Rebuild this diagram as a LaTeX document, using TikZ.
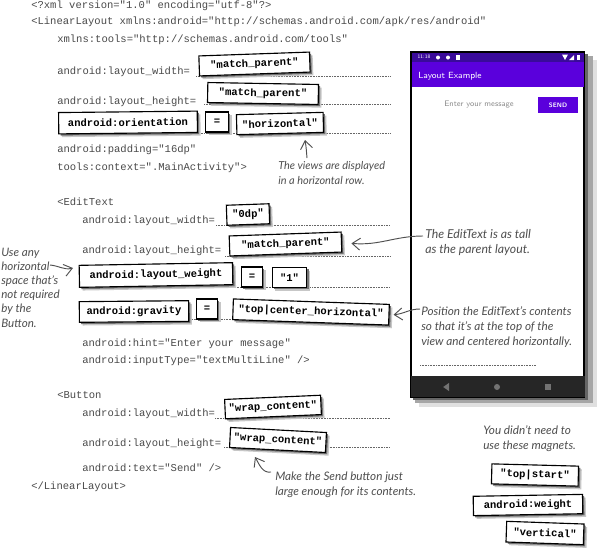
\documentclass[tikz,border=0pt]{standalone}
\usepackage{fontspec}
\setmainfont{Lato}
\setmonofont{Liberation Mono}
\usetikzlibrary{shadows,arrows.meta,shapes.geometric}
\definecolor{codec}{HTML}{4A4A4A}
\definecolor{notec}{HTML}{4F4F4F}
\definecolor{appbar}{HTML}{5A00DC}
\definecolor{statusbar}{HTML}{3A0A9A}
\tikzset{
  code/.style={anchor=base west,inner sep=0pt,text=codec,font=\ttfamily\fontsize{7.9pt}{9pt}\selectfont},
  magnet/.style={draw=black,line width=0.85pt,fill=white,inner sep=0pt,align=center,
    font=\ttfamily\bfseries\fontsize{7.9pt}{9pt}\selectfont,
    general shadow={fill=black!22,shadow xshift=2.4pt,shadow yshift=-2.4pt},
    general shadow={fill=black!55,shadow xshift=1.3pt,shadow yshift=-1.3pt}},
  note/.style={anchor=base west,inner sep=0pt,text=notec,align=left,font=\itshape\fontsize{8.8pt}{10.9pt}\selectfont},
  dotline/.style={draw=black!60,line width=0.5pt,dash pattern=on 0.6pt off 0.6pt},
  pointer/.style={draw=notec,line width=0.7pt,-{Straight Barb[length=6pt,width=9pt,line width=0.7pt]}},
  navicon/.style={fill=black!55,draw=none,inner sep=0pt}
}
\begin{document}
\begin{tikzpicture}[x=0.75pt,y=-0.75pt]
\path[use as bounding box,fill=white] (0,0) rectangle (600,554);
% code
\node[code] (c1) at (31,8) {<?xml version="1.0" encoding="utf-8"?>};
\node[code] (c2) at (31,24) {<LinearLayout xmlns:android="http://schemas.android.com/apk/res/android"};
\node[code] (c3) at (57,42) {xmlns:tools="http://schemas.android.com/tools"};
\node[code] (c4) at (57,74) {android:layout\_width=};
\node[code] (c5) at (57,104) {android:layout\_height=};
\node[code] (c6) at (57,152) {android:padding="16dp"};
\node[code] (c7) at (57,170) {tools:context=".MainActivity">};
\node[code] (c8) at (57,205) {<EditText};
\node[code] (c9) at (82,223) {android:layout\_width=};
\node[code] (c10) at (82,253) {android:layout\_height=};
\node[code] (c11) at (82,346) {android:hint="Enter your message"};
\node[code] (c12) at (82,363) {android:inputType="textMultiLine" />};
\node[code] (c13) at (57,398) {<Button};
\node[code] (c14) at (82,416) {android:layout\_width=};
\node[code] (c15) at (82,446) {android:layout\_height=};
\node[code] (c16) at (82,471) {android:text="Send" />};
\node[code] (c17) at (31,489) {</LinearLayout>};
% dotted answer lines
\foreach \xa/\xb/\yy in {196/390/76,204/390/104,60/390/133,216/390/225,225/390/256,80/390/287,80/390/319,215/390/418,224/390/447}
  \draw[dotline] (\xa,\yy) -- (\xb,\yy);
% phone
\fill[black!12] (419,60) rectangle (597,407);
\fill[black!35] (415,56) rectangle (593,403);
\fill[black!60] (413,54) rectangle (588,400);
\draw[black,line width=0.8pt,fill=white] (411,52) rectangle (584,397);
\fill[appbar] (411.5,62) rectangle (583.5,87);
\fill[statusbar] (411.5,52.5) rectangle (583.5,62);
\fill[black!85] (411,376) rectangle (584.5,397);
\node[inner sep=0pt,text=white,font=\sffamily\fontsize{3.9pt}{4pt}\selectfont] (clock) at (424,57) {11:18};
\foreach \xx in {438,448} \fill[white] (\xx,57.5) circle (2);
\fill[white] (456,54.5) rectangle (460,60);
\fill[white] (562,54.5) -- (568,54.5) -- (565,60) -- cycle;
\fill[white] (569,60) -- (574,60) -- (574,55) -- cycle;
\fill[white] (577,54.5) rectangle (580,60);
\node[inner sep=0pt,text=white,font=\sffamily\fontsize{6.7pt}{8pt}\selectfont] (title) at (450,76) {Layout Example};
\node[inner sep=0pt,text=black!45,font=\sffamily\fontsize{6pt}{8pt}\selectfont] (hintmsg) at (479,104.5) {Enter your message};
\node[fill=appbar,minimum width=30pt,minimum height=12pt,inner sep=0pt,text=white,font=\sffamily\bfseries\fontsize{4.8pt}{6pt}\selectfont] (send) at (558,105) {SEND};
\draw[dotline] (420,365) -- (536,365);
\node[navicon,isosceles triangle,rotate=180,minimum height=4.5pt,minimum width=5pt,isosceles triangle apex angle=70] (navback) at (447,387) {};
\node[navicon,circle,minimum size=4.5pt] (navhome) at (497,387) {};
\node[navicon,minimum size=4.5pt] (navrec) at (548,387) {};
% magnets
\node[magnet,minimum width=83pt,minimum height=15pt,rotate=2] (a1) at (254.5,64) {"match\_parent"};
\node[magnet,minimum width=83pt,minimum height=15pt,rotate=-1] (a2) at (263,93.5) {"match\_parent"};
\node[magnet,minimum width=104pt,minimum height=16pt,rotate=0.6] (a3) at (128,122.5) {android:orientation};
\node[magnet,minimum width=17pt,minimum height=15pt,rotate=0] (a4) at (217,122) {=};
\node[magnet,minimum width=65pt,minimum height=15pt,rotate=1.5] (a5) at (280,123.5) {"horizontal"};
\node[magnet,minimum width=32pt,minimum height=15pt,rotate=2] (a6) at (248,214.5) {"0dp"};
\node[magnet,minimum width=84pt,minimum height=15pt,rotate=2] (a7) at (285.5,244) {"match\_parent"};
\node[magnet,minimum width=115pt,minimum height=16.5pt,rotate=1] (a8) at (156,275) {android:layout\_weight};
\node[magnet,minimum width=16pt,minimum height=15pt,rotate=0] (a9) at (252,277) {=};
\node[magnet,minimum width=26pt,minimum height=15pt,rotate=0] (a10) at (289.5,277.5) {"1"};
\node[magnet,minimum width=82pt,minimum height=15.5pt,rotate=0.5] (a11) at (134,311.5) {android:gravity};
\node[magnet,minimum width=16pt,minimum height=15pt,rotate=0] (a12) at (207,309) {=};
\node[magnet,minimum width=117pt,minimum height=15.5pt,rotate=-2] (a13) at (311,312) {"top|center\_horizontal"};
\node[magnet,minimum width=72pt,minimum height=14.5pt,rotate=2.5] (a14) at (273,407) {"wrap\_content"};
\node[magnet,minimum width=72pt,minimum height=15pt,rotate=-3] (a15) at (278,440) {"wrap\_content"};
\node[magnet,minimum width=65pt,minimum height=15pt,rotate=-1.5] (a16) at (535,475) {"top|start"};
\node[magnet,minimum width=82pt,minimum height=14.5pt,rotate=1] (a17) at (528,505) {android:weight};
\node[magnet,minimum width=58pt,minimum height=15.5pt,rotate=-2] (a18) at (545,533) {"vertical"};
% notes
\node[note,font=\itshape\fontsize{8.2pt}{10.9pt}\selectfont] (n1) at (278,184) {The views are displayed\\in a horizontal row.};
\node[note,font=\itshape\fontsize{9.2pt}{10.9pt}\selectfont] (n2) at (425,253) {The EditText is as tall\\as the parent layout.};
\node[note,font=\itshape\fontsize{8.7pt}{10.6pt}\selectfont] (n3) at (1,327) {Use any\\horizontal\\space that’s\\not required\\by the\\Button.};
\node[note] (n4) at (421,345) {Position the EditText’s contents\\so that it’s at the top of the\\view and centered horizontally.};
\node[note] (n5) at (483,449) {You didn’t need to\\use these magnets.};
\node[note] (n6) at (275,495) {Make the Send button just\\large enough for its contents.};
% pointers
\coordinate (t1) at (307,158);
\coordinate (h1) at (305,140);
\draw[pointer] (t1) to[out=95,in=-80] (h1);
\coordinate (t2) at (423,236);
\draw[pointer] (t2) to[out=180,in=-5] ([xshift=7pt,yshift=-1pt]a7.east);
\coordinate (t3) at (50,265);
\coordinate (h3) at (73,268);
\draw[pointer] (t3) to[out=-5,in=195] (h3);
\coordinate (t4) at (420,309);
\draw[pointer] (t4) to[out=180,in=5] ([xshift=3pt]a13.east);
\coordinate (t5) at (271,472);
\coordinate (h5) at (255,457);
\draw[pointer] (t5) to[out=190,in=-60] (h5);
\end{tikzpicture}
\end{document}
